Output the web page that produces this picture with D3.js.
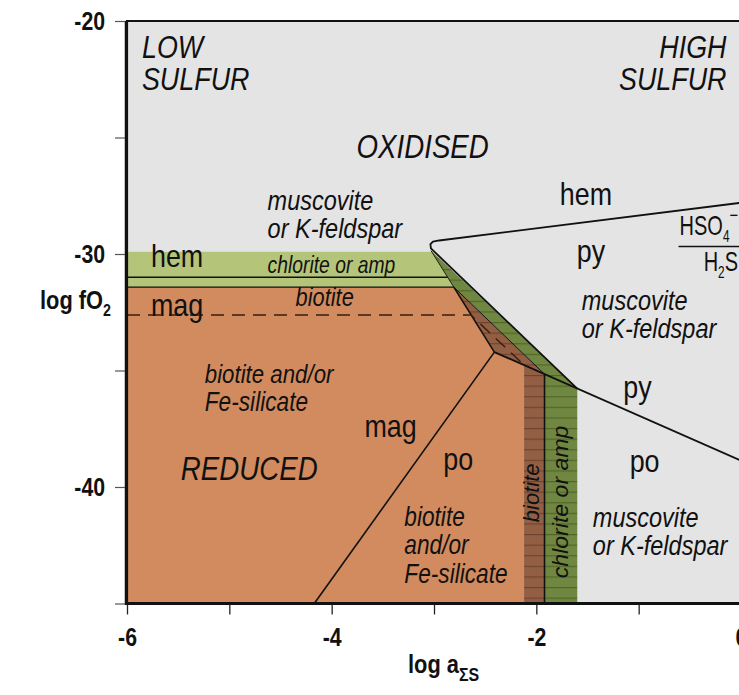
<!DOCTYPE html>
<html>
<head>
<meta charset="utf-8">
<script src="https://cdn.jsdelivr.net/npm/d3@7"></script>
<style>
  html, body { margin: 0; padding: 0; background: #ffffff; }
  svg { display: block; }
  text { font-family: "Liberation Sans", Arial, sans-serif; fill: #111; }
</style>
</head>
<body>
<svg id="chart" width="739" height="695"></svg>
<script>
// ---- axis extents and ticks ----
const xDomain = [-6, 0];
const yDomain = [-45, -20];
const xTickValues = [-6, -5, -4, -3, -2, -1, 0];
const xTickLabels = ["-6", "", "-4", "", "-2", "", "0"];
const yTickValues = [-45, -40, -35, -30, -25, -20];
const yTickLabels = ["", "-40", "", "-30", "", "-20"];

// ---- phase boundaries (log aΣS, log fO2) ----
const hemPyBoundary = [[0, -27.8], [-2.95, -29.42], [-3.01, -29.47], [-3.035, -29.58], [-3.03, -29.76]];
const magPyBoundary = [[-3.03, -29.85], [-2.41, -34.21]];
const poPyBoundary = [[-2.41, -34.21], [0, -38.87]];
const magPoBoundary = [[-2.41, -34.21], [-4.17, -45]];
const hemMagLevel = -31.0;
const chloriteTop = -29.9;
const biotiteTop = -31.42;
const biotiteDashed = [[-6, -32.62], [-2.64, -32.62], [-2.15, -34.64]];
const biotiteBandX = [-2.12, -1.92];
const chloriteBandX = [-1.92, -1.60];

// ---- layout ----
const W = 739, H = 695;
const plot = { left: 127, right: 741, top: 21, bottom: 603.5 };

const xs = d3.scaleLinear().domain(xDomain).range([plot.left, plot.right]);
const ys = d3.scaleLinear().domain(yDomain).range([plot.bottom, plot.top]);

const svg = d3.select("#chart");

// helpers on the boundary segments
const xOnSeg = (seg, y) => {
  const [[x0, y0], [x1, y1]] = seg;
  return x0 + (x1 - x0) * (y - y0) / (y1 - y0);
};
const yOnSeg = (seg, x) => {
  const [[x0, y0], [x1, y1]] = seg;
  return y0 + (y1 - y0) * (x - x0) / (x1 - x0);
};

const V = poPyBoundary[0];                                   // mag-po-py junction
const magPyTop = magPyBoundary[0];
const P = [xOnSeg(magPyBoundary, biotiteTop), biotiteTop];   // top of biotite wedge
const B = [biotiteBandX[1], yOnSeg(poPyBoundary, biotiteBandX[1])];
const C = [chloriteBandX[1], yOnSeg(poPyBoundary, chloriteBandX[1])];
const L = [biotiteBandX[0], yOnSeg(poPyBoundary, biotiteBandX[0])];
const yMin = yDomain[0], xMin = xDomain[0];

// ---- colours ----
const col = {
  grey: "#e4e4e4",
  lightGreen: "#b4c57a",
  olive: "#6f8740",
  brown: "#935f44",
  orange: "#d28b5e",
  line: "#111111"
};

// ---- defs: clip + stripe fills ----
const defs = svg.append("defs");
defs.append("clipPath").attr("id", "plotClip")
  .append("rect")
  .attr("x", plot.left).attr("y", plot.top)
  .attr("width", plot.right - plot.left).attr("height", plot.bottom - plot.top);

function stripePattern(id, fill, stroke) {
  const p = defs.append("pattern").attr("id", id)
    .attr("patternUnits", "userSpaceOnUse")
    .attr("x", 0).attr("y", 4)
    .attr("width", 10).attr("height", 10.6);
  p.append("rect").attr("width", 10).attr("height", 10.6).attr("fill", fill);
  p.append("line").attr("x1", 0).attr("x2", 10).attr("y1", 0.6).attr("y2", 0.6)
    .attr("stroke", stroke).attr("stroke-width", 1.1);
}
stripePattern("oliveStripes", col.olive, "#4f6427");
stripePattern("brownStripes", col.brown, "#6c412c");

const g = svg.append("g").attr("clip-path", "url(#plotClip)");
const line = d3.line().x(d => xs(d[0])).y(d => ys(d[1]));
const poly = pts => line(pts) + "Z";

// background: muscovite / K-feldspar field
g.append("rect")
  .attr("x", plot.left).attr("y", plot.top)
  .attr("width", plot.right - plot.left).attr("height", plot.bottom - plot.top)
  .attr("fill", col.grey);

// chlorite/amphibole band in the low-sulfur region
g.append("path")
  .attr("d", poly([[xMin, chloriteTop], [xOnSeg(magPyBoundary, chloriteTop), chloriteTop], P, [xMin, biotiteTop]]))
  .attr("fill", col.lightGreen);

// biotite and/or Fe-silicate field
g.append("path")
  .attr("d", poly([[xMin, biotiteTop], P, V, L, [L[0], yMin], [xMin, yMin]]))
  .attr("fill", col.orange);

// biotite wedge + vertical band
g.append("path")
  .attr("d", poly([P, B, [B[0], yMin], [L[0], yMin], L, V]))
  .attr("fill", "url(#brownStripes)");

// chlorite/amphibole wedge + vertical band
g.append("path")
  .attr("d", poly([magPyTop, C, [C[0], yMin], [B[0], yMin], B, P]))
  .attr("fill", "url(#oliveStripes)");

// ---- boundary lines ----
const strokeLine = (pts, w, extra) => {
  const p = g.append("path").attr("d", line(pts))
    .attr("fill", "none").attr("stroke", col.line)
    .attr("stroke-width", w).attr("stroke-linejoin", "round");
  if (extra) extra(p);
  return p;
};
strokeLine([[xMin, hemMagLevel], [xOnSeg(magPyBoundary, hemMagLevel), hemMagLevel]], 1.6);
strokeLine([[xMin, biotiteTop], P], 1.4);
strokeLine([magPyTop, P], 0.9);
strokeLine([P, V], 1.6);
strokeLine([P, B], 1.0);
strokeLine([B, [B[0], yMin]], 1.6);
strokeLine(hemPyBoundary.concat([C]), 1.8);
strokeLine(poPyBoundary, 1.8);
strokeLine(magPoBoundary, 1.6);
strokeLine(biotiteDashed, 1.5, p => p.attr("stroke", "#3a1e10").attr("stroke-dasharray", "13,8"));

// ---- text ----
const tg = svg.append("g");
function label(str, x, y, o = {}) {
  const sx = o.sx ?? 0.84;
  const rot = o.rot ? ` rotate(${o.rot})` : "";
  const t = tg.append("text")
    .attr("transform", `translate(${xs(x)},${ys(y)})${rot} scale(${sx},1)`)
    .attr("font-size", o.size ?? 32)
    .attr("font-style", o.italic ? "italic" : "normal")
    .attr("font-weight", o.bold ? "bold" : "normal")
    .attr("text-anchor", o.anchor ?? "start");
  t.text(str);
  return t;
}

const big = { size: 32, italic: true };
label("LOW", -5.854, -21.59, big);
label("SULFUR", -5.854, -22.96, big);
label("HIGH", -0.142, -21.59, { ...big, anchor: "end" });
label("SULFUR", -0.142, -22.96, { ...big, anchor: "end" });
label("OXIDISED", -3.758, -25.88, { ...big, size: 33 });
label("REDUCED", -5.474, -39.70, { ...big, size: 33 });

const min = { size: 32 };
label("hem", -5.766, -30.56, min);
label("mag", -5.766, -32.66, min);
label("hem", -1.770, -27.90, min);
label("py", -1.604, -30.34, min);
label("py", -1.15, -36.2, min);
label("mag", -3.680, -37.85, min);
label("po", -2.910, -39.27, min);
label("po", -1.088, -39.36, min);

const sil = { size: 28, italic: true };
label("muscovite", -4.626, -28.11, sil);
label("or K-feldspar", -4.626, -29.31, sil);
label("chlorite or amp", -4.626, -30.82, { size: 23, italic: true });
label("biotite", -4.353, -32.23, { size: 26, italic: true });
label("biotite and/or", -5.240, -35.54, { size: 26.5, italic: true });
label("Fe-silicate", -5.240, -36.74, { size: 27, italic: true });
label("biotite", -3.290, -41.67, { size: 27, italic: true });
label("and/or", -3.290, -42.88, { size: 27, italic: true });
label("Fe-silicate", -3.290, -44.12, { size: 27, italic: true });
label("muscovite", -1.556, -32.40, sil);
label("or K-feldspar", -1.556, -33.61, sil);
label("muscovite", -1.448, -41.72, sil);
label("or K-feldspar", -1.448, -42.92, sil);

// vertical band labels
label("biotite", (biotiteBandX[0] + biotiteBandX[1]) / 2 + 0.045, -40.25,
  { size: 22, italic: true, rot: -90, anchor: "middle", sx: 1.0 });
label("chlorite or amp", (chloriteBandX[0] + chloriteBandX[1]) / 2 + 0.065, -40.64,
  { size: 22, italic: true, rot: -90, anchor: "middle", sx: 1.05 });

// HSO4- / H2S ratio
const ratio = tg.append("text")
  .attr("transform", `translate(${xs(-0.6)},${ys(-29.18)}) scale(0.74,1)`)
  .attr("font-size", 27);
ratio.append("tspan").text("HSO");
ratio.append("tspan").attr("font-size", 16).attr("dy", 7).text("4");
ratio.append("tspan").attr("font-size", 20).attr("dy", -20).text("−");
tg.append("line")
  .attr("x1", xs(-0.61)).attr("x2", plot.right)
  .attr("y1", ys(-29.68)).attr("y2", ys(-29.68))
  .attr("stroke", col.line).attr("stroke-width", 1.4);
const h2s = tg.append("text")
  .attr("transform", `translate(${xs(-0.365)},${ys(-30.73)}) scale(0.74,1)`)
  .attr("font-size", 27);
h2s.append("tspan").text("H");
h2s.append("tspan").attr("font-size", 16).attr("dy", 7).text("2");
h2s.append("tspan").attr("dy", -7).text("S");

// ---- frame and axes ----
svg.append("path")
  .attr("d", `M${plot.left},${plot.bottom}V${plot.top}H${plot.right}`)
  .attr("fill", "none").attr("stroke", "#111").attr("stroke-width", 2.2);
svg.append("line")
  .attr("x1", plot.left - 1.5).attr("x2", plot.left - 1.5)
  .attr("y1", plot.top).attr("y2", plot.bottom + 1.5)
  .attr("stroke", "#111").attr("stroke-width", 1.5);
svg.append("line")
  .attr("x1", plot.left - 2).attr("x2", W)
  .attr("y1", plot.bottom).attr("y2", plot.bottom)
  .attr("stroke", "#111").attr("stroke-width", 3);

const xAxis = d3.axisBottom(xs).tickValues(xTickValues)
  .tickSize(10).tickPadding(8)
  .tickFormat((d, i) => xTickLabels[i]);
const gx = svg.append("g").attr("transform", `translate(0,${plot.bottom + 1})`).call(xAxis);
gx.select(".domain").remove();
gx.selectAll(".tick line").attr("stroke", "#222").attr("stroke-width", 1.3);
gx.selectAll(".tick text")
  .attr("font-size", 25).attr("font-weight", "bold").attr("fill", "#111")
  .attr("font-family", "'Liberation Sans', Arial, sans-serif")
  .attr("dy", "0.95em")
  .attr("transform", "scale(0.85,1)");

const yAxis = d3.axisLeft(ys).tickValues(yTickValues)
  .tickSize(10).tickPadding(8)
  .tickFormat((d, i) => yTickLabels[i]);
const gy = svg.append("g").attr("transform", `translate(${plot.left - 2},0)`).call(yAxis);
gy.select(".domain").remove();
gy.selectAll(".tick line").attr("stroke", "#555").attr("stroke-width", 1.2);
gy.selectAll(".tick text")
  .attr("font-size", 25).attr("font-weight", "bold").attr("fill", "#111")
  .attr("font-family", "'Liberation Sans', Arial, sans-serif")
  .attr("transform", "translate(-2,0) scale(0.85,1)")
  .attr("x", -18 / 0.85);

// axis titles
const yTitle = svg.append("text")
  .attr("transform", "translate(40,309) scale(0.84,1)")
  .attr("font-size", 26).attr("font-weight", "bold");
yTitle.append("tspan").text("log fO");
yTitle.append("tspan").attr("font-size", 17).attr("dy", 7).text("2");

const xTitle = svg.append("text")
  .attr("transform", "translate(408,673) scale(0.84,1)")
  .attr("font-size", 26).attr("font-weight", "bold");
xTitle.append("tspan").text("log a");
xTitle.append("tspan").attr("font-size", 19).attr("dy", 8).text("ΣS");
</script>
</body>
</html>
